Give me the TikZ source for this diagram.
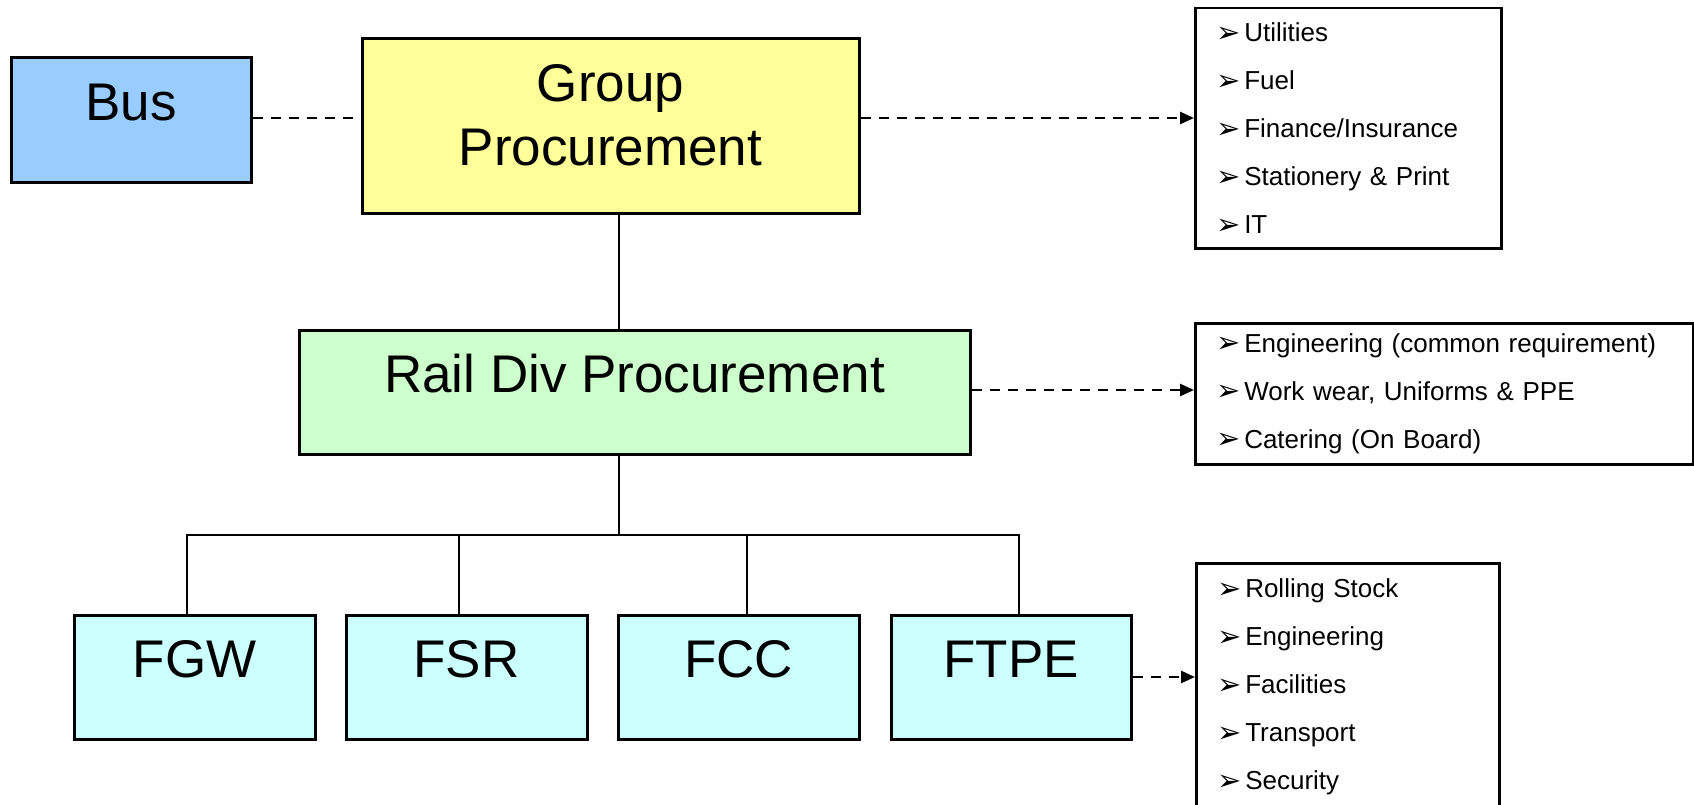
\documentclass[tikz,border=0pt]{standalone}
\usepackage{fontspec}
\setmainfont{Liberation Sans}
\newfontfamily\dejavu{DejaVu Sans}
\usetikzlibrary{arrows.meta}

\definecolor{busblue}{HTML}{99CCFF}
\definecolor{grpyellow}{HTML}{FFFF99}
\definecolor{railgreen}{HTML}{CCFFCC}
\definecolor{tocaqua}{HTML}{CCFFFF}

% arrowhead bullet followed by a fixed gap before the item text
\newcommand{\itm}{\makebox[28pt][l]{\smash{\raisebox{-0.5pt}{\dejavu\fontsize{29}{29}\selectfont ➢}}}}

\begin{document}
\begin{tikzpicture}[x=1pt,y=-1pt,
  unitbox/.style={draw=black, line width=3pt, inner sep=0pt,
    text height=38pt, text depth=38pt, font=\fontsize{53}{64}\selectfont},
  listbox/.style={draw=black, line width=2.5pt, inner ysep=0pt, inner xsep=21pt,
    align=left, anchor=north west, font=\fontsize{26}{48}\selectfont},
  link/.style={line width=2.5pt},
  dashlink/.style={line width=2.5pt, dash pattern=on 10pt off 8pt},
  feed/.style={dashlink, -{Triangle[length=14pt,width=12pt]}}]

\clip (0,0) rectangle (1694,805);

% organisation units
\node[unitbox, fill=busblue, minimum width=240pt, minimum height=125pt] (bus) at (131,120.5) {Bus};
\node[unitbox, fill=grpyellow, minimum width=497pt, minimum height=175pt,
      text height=100pt, text depth=21pt] (grp) at (610.5,126.5)
      {\begin{tabular}[b]{@{}c@{}}Group\\Procurement\end{tabular}};
\node[unitbox, fill=railgreen, minimum width=671pt, minimum height=124pt] (rail) at (634.5,392) {Rail Div Procurement};
\node[unitbox, fill=tocaqua, minimum width=241pt, minimum height=124pt] (fgw) at (194.5,677) {FGW};
\node[unitbox, fill=tocaqua, minimum width=241pt, minimum height=124pt] (fsr) at (466.5,677) {FSR};
\node[unitbox, fill=tocaqua, minimum width=241pt, minimum height=124pt] (fcc) at (738.5,677) {FCC};
\node[unitbox, fill=tocaqua, minimum width=240pt, minimum height=124pt] (ftpe) at (1011,677) {FTPE};

% category lists
\node[listbox, text width=264pt, minimum height=240pt] (l1) at (1194,7)
  {\itm Utilities\\ \itm Fuel\\ \itm Finance/Insurance\\ \itm Stationery \& Print\\ \itm IT};
\node[listbox, text width=456pt, minimum height=141pt] (l2) at (1194,322)
  {\itm Engineering (common requirement)\\ \itm Work wear, Uniforms \& PPE\\ \itm Catering (On Board)};
\node[listbox, text width=261pt, minimum height=248pt] (l3) at (1195,562)
  {\itm Rolling Stock\\ \itm Engineering\\ \itm Facilities\\ \itm Transport\\ \itm Security};

% reporting lines
\coordinate (trunk) at (619,535);
\coordinate (tap1) at (187,535);
\coordinate (tap2) at (459,535);
\coordinate (tap3) at (747,535);
\coordinate (tap4) at (1019,535);
\draw[link] (grp.south -| trunk) -- (rail.north -| trunk);
\draw[link] (rail.south -| trunk) -- (trunk);
\draw[link] (fgw.north -| tap1) -- (tap1) -- (tap4) -- (ftpe.north -| tap4);
\draw[link] (tap2) -- (fsr.north -| tap2);
\draw[link] (tap3) -- (fcc.north -| tap3);

% dashed relations
\draw[dashlink] ([yshift=2.5pt]bus.east) -- ([yshift=2.5pt]bus.east -| grp.west);
\draw[feed] ([yshift=8.5pt]grp.east) -- ([yshift=8.5pt]grp.east -| l1.west);
\draw[feed] ([yshift=2pt]rail.east) -- ([yshift=2pt]rail.east -| l2.west);
\draw[feed] (ftpe.east) -- (ftpe.east -| l3.west);
\end{tikzpicture}
\end{document}
